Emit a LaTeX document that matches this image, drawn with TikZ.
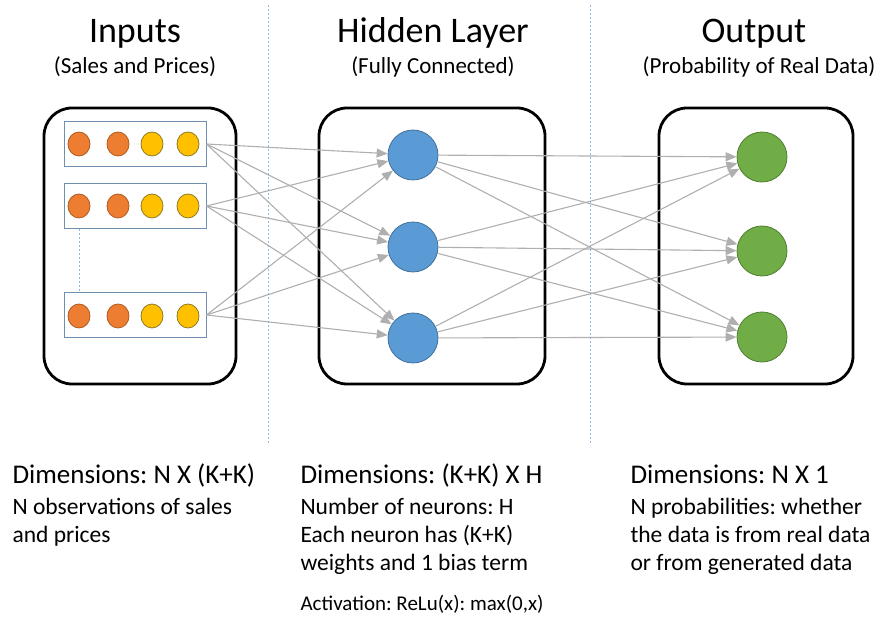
\documentclass[tikz,border=0pt]{standalone}
\usepackage{fontspec}
\setmainfont{Carlito}
\frenchspacing
\usetikzlibrary{arrows.meta,shapes.geometric}
\definecolor{orangeF}{HTML}{ED7D31}
\definecolor{orangeD}{HTML}{AE5A21}
\definecolor{yellowF}{HTML}{FFC000}
\definecolor{yellowD}{HTML}{8C7A20}
\definecolor{blueF}{HTML}{5B9BD5}
\definecolor{blueD}{HTML}{41719C}
\definecolor{greenF}{HTML}{70AD47}
\definecolor{greenD}{HTML}{507E32}
\definecolor{rowD}{HTML}{6F8FAF}
\definecolor{edgeC}{HTML}{AFAFAF}
\definecolor{sepC}{HTML}{8FB8DE}
\tikzset{
  layerbox/.style={draw=black, line width=2.8pt, rounded corners=28pt},
  rowbox/.style={draw=rowD, line width=1pt, minimum width=142pt, minimum height=45pt, inner sep=0pt},
  dotO/.style={ellipse, draw=orangeD, fill=orangeF, line width=0.8pt, minimum width=22pt, minimum height=24pt, inner sep=0pt},
  dotY/.style={ellipse, draw=yellowD, fill=yellowF, line width=0.8pt, minimum width=22pt, minimum height=24pt, inner sep=0pt},
  neuronB/.style={circle, draw=blueD, fill=blueF, line width=0.8pt, minimum size=50pt, inner sep=0pt},
  neuronG/.style={circle, draw=greenD, fill=greenF, line width=0.8pt, minimum size=50pt, inner sep=0pt},
  conn/.style={draw=edgeC, line width=1.1pt, -{Triangle[length=11pt,width=9pt]}},
  sepline/.style={draw=sepC, line width=0.9pt, dash pattern=on 2pt off 2pt},
  titletext/.style={anchor=base, font=\fontsize{36}{40}\selectfont},
  subtext/.style={anchor=base, font=\fontsize{23}{26}\selectfont},
  dimtext/.style={anchor=base west, font=\fontsize{27}{30}\selectfont},
  bodytext/.style={anchor=base west, font=\fontsize{23.5}{29}\selectfont},
  acttext/.style={anchor=base west, font=\fontsize{21}{24}\selectfont}
}
\begin{document}
\begin{tikzpicture}[x=1pt,y=-1pt]
\useasboundingbox (0,0) rectangle (887,620);
% separators
\coordinate (s1t) at (268,5); \coordinate (s1b) at (268,445);
\coordinate (s2t) at (590,5); \coordinate (s2b) at (590,445);
\draw[sepline] (s1t) -- (s1b);
\draw[sepline] (s2t) -- (s2b);
% titles
\node[titletext] (t1) at (135,43) {Inputs};
\node[titletext] (t2) at (433,43) {Hidden Layer};
\node[titletext] (t3) at (754,43) {Output};
\node[subtext] (st1) at (135,74) {(Sales and Prices)};
\node[subtext] (st2) at (433,74) {(Fully Connected)};
\node[subtext] (st3) at (759,74) {(Probability of Real Data)};
% layer boxes
\draw[layerbox] (44,108) rectangle (236,384);
\draw[layerbox] (319,108) rectangle (545,384);
\draw[layerbox] (659,108) rectangle (853,384);
% input rows
\node[rowbox] (r1) at (135,144) {};
\node[rowbox] (r2) at (135,206) {};
\node[rowbox] (r3) at (135,315) {};
\draw[sepline] (r2.south -| 79,0) -- (r3.north -| 79,0);
\foreach \r/\y in {1/144,2/206,3/316}{
  \node[dotO] (o\r a) at (79,\y) {};
  \node[dotO] (o\r b) at (118,\y) {};
  \node[dotY] (o\r c) at (152,\y) {};
  \node[dotY] (o\r d) at (188,\y) {};
}
% hidden neurons
\node[neuronB] (h1) at (413,155) {};
\node[neuronB] (h2) at (413,247) {};
\node[neuronB] (h3) at (413,338) {};
% output neurons
\node[neuronG] (g1) at (762,157) {};
\node[neuronG] (g2) at (762,251) {};
\node[neuronG] (g3) at (762,337) {};
% connections
\foreach \i in {1,2,3}{
  \foreach \j in {1,2,3}{
    \draw[conn] (r\i.east) -- (h\j);
    \draw[conn] (h\i) -- (g\j);
  }
}
% bottom text
\node[dimtext] (d1) at (9,483) {Dimensions: N X (K+K)};
\node[dimtext] (d2) at (297,483) {Dimensions: (K+K) X H};
\node[dimtext] (d3) at (627,483) {Dimensions: N X 1};
\node[bodytext] (b1a) at (9,514) {N observations of sales};
\node[bodytext] (b1b) at (9,542) {and prices};
\node[bodytext] (b2a) at (297,514) {Number of neurons: H};
\node[bodytext] (b2b) at (297,542) {Each neuron has (K+K)};
\node[bodytext] (b2c) at (297,570) {weights and 1 bias term};
\node[bodytext] (b3a) at (627,514) {N probabilities: whether};
\node[bodytext] (b3b) at (627,542) {the data is from real data};
\node[bodytext] (b3c) at (627,570) {or from generated data};
\node[acttext] (a2) at (297,610) {Activation: ReLu(x): max(0,x)};
\end{tikzpicture}
\end{document}
